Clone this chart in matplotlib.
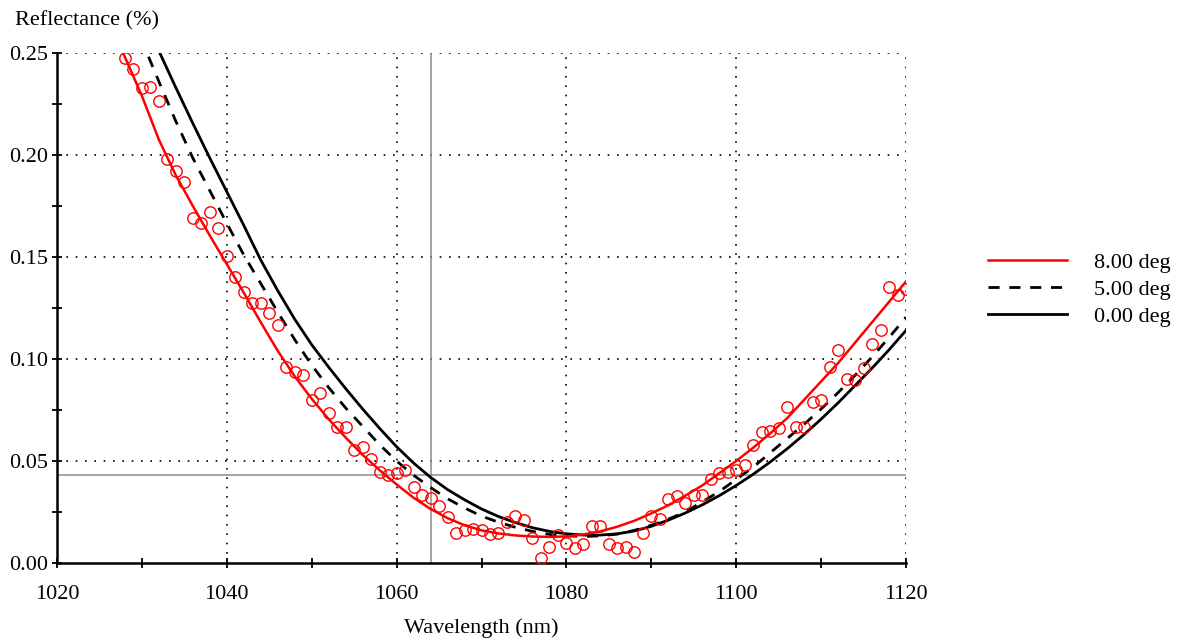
import matplotlib
matplotlib.use("Agg")
import matplotlib.pyplot as plt
from matplotlib.ticker import MultipleLocator, FormatStrFormatter

plt.rcParams['font.family'] = ['Liberation Serif', 'DejaVu Serif']

# ---------------- data ----------------
wl_meas = [1028, 1029, 1030, 1031, 1032, 1033, 1034, 1035, 1036, 1037, 1038, 1039,
           1040, 1041, 1042, 1043, 1044, 1045, 1046, 1047, 1048, 1049, 1050, 1051,
           1052, 1053, 1054, 1055, 1056, 1057, 1058, 1059, 1060, 1061, 1062, 1063,
           1064, 1065, 1066, 1067, 1068, 1069, 1070, 1071, 1072, 1073, 1074, 1075,
           1076, 1077, 1078, 1079, 1080, 1081, 1082, 1083, 1084, 1085, 1086, 1087,
           1088, 1089, 1090, 1091, 1092, 1093, 1094, 1095, 1096, 1097, 1098, 1099,
           1100, 1101, 1102, 1103, 1104, 1105, 1106, 1107, 1108, 1109, 1110, 1111,
           1112, 1113, 1114, 1115, 1116, 1117, 1118, 1119, 1120]
refl_meas = [0.2475, 0.2422, 0.2328, 0.2333, 0.2265, 0.1980, 0.1922, 0.1868, 0.1691, 0.1667,
             0.1721, 0.1642, 0.1505, 0.1402, 0.1328, 0.1275, 0.1275, 0.1225, 0.1167, 0.0961,
             0.0936, 0.0922, 0.0799, 0.0833, 0.0735, 0.0667, 0.0667, 0.0554, 0.0569, 0.0510,
             0.0446, 0.0431, 0.0441, 0.0456, 0.0373, 0.0333, 0.0319, 0.0279, 0.0225, 0.0147,
             0.0162, 0.0167, 0.0162, 0.0142, 0.0147, 0.0201, 0.0230, 0.0211, 0.0123, 0.0025,
             0.0078, 0.0137, 0.0098, 0.0074, 0.0093, 0.0181, 0.0181, 0.0093, 0.0074, 0.0078,
             0.0054, 0.0147, 0.0230, 0.0216, 0.0314, 0.0328, 0.0294, 0.0333, 0.0333, 0.0412,
             0.0441, 0.0446, 0.0456, 0.0480, 0.0578, 0.0642, 0.0647, 0.0662, 0.0765, 0.0667,
             0.0667, 0.0789, 0.0799, 0.0961, 0.1044, 0.0902, 0.0897, 0.0956, 0.1074, 0.1142,
             0.1353, 0.1314, 0.1343]

wl_calc = [1026, 1028, 1030, 1032, 1034, 1036, 1038, 1040, 1042, 1044, 1046, 1048,
           1050, 1052, 1054, 1056, 1058, 1060, 1062, 1064, 1066, 1068, 1070, 1072,
           1074, 1076, 1078, 1080, 1082, 1084, 1086, 1088, 1090, 1092, 1094, 1096,
           1098, 1100, 1102, 1104, 1106, 1108, 1110, 1112, 1114, 1116, 1118, 1120]
refl_8deg = [0.266, 0.248, 0.229, 0.2075, 0.190, 0.175, 0.1605, 0.1465, 0.1325, 0.118,
             0.104, 0.0915, 0.0805, 0.0705, 0.0615, 0.053, 0.0455, 0.0385, 0.032, 0.0265,
             0.022, 0.0185, 0.016, 0.0145, 0.0135, 0.013, 0.0128, 0.013, 0.014, 0.0155,
             0.0178, 0.0207, 0.0243, 0.0283, 0.033, 0.038, 0.044, 0.050, 0.0565, 0.0635,
             0.071, 0.080, 0.089, 0.098, 0.108, 0.118, 0.128, 0.138]
refl_5deg = [0.296, 0.276, 0.256, 0.236, 0.2165, 0.1985, 0.1825, 0.1665, 0.151, 0.137,
             0.123, 0.1095, 0.097, 0.086, 0.076, 0.067, 0.058, 0.050, 0.043, 0.037,
             0.0315, 0.027, 0.023, 0.020, 0.0175, 0.0155, 0.014, 0.0133, 0.013, 0.0133,
             0.0142, 0.016, 0.0185, 0.0215, 0.025, 0.030, 0.035, 0.041, 0.047, 0.054,
             0.061, 0.068, 0.0755, 0.0835, 0.092, 0.101, 0.1105, 0.1205]
refl_0deg = [0.308, 0.288, 0.269, 0.251, 0.233, 0.2155, 0.1985, 0.182, 0.1655, 0.1485,
             0.1335, 0.1195, 0.107, 0.096, 0.0855, 0.0755, 0.066, 0.057, 0.049, 0.042,
             0.036, 0.031, 0.0265, 0.0228, 0.0198, 0.0173, 0.0155, 0.0143, 0.0137, 0.0137,
             0.0143, 0.0157, 0.018, 0.021, 0.0245, 0.0285, 0.033, 0.038, 0.0435, 0.0495,
             0.056, 0.063, 0.0705, 0.0785, 0.087, 0.0955, 0.1045, 0.114]

labels = ["8.00 deg", "5.00 deg", "0.00 deg"]
cursor_wl = 1064.0
cursor_refl = 0.043

# ---------------- figure ----------------
W, H = 1184, 643
fig = plt.figure(figsize=(W / 100, H / 100), dpi=100)
ax = fig.add_axes([57 / W, 1 - 563 / H, (906 - 57) / W, (563 - 53) / H])

ax.set_xlim(1020, 1120)
ax.set_ylim(0.0, 0.25)

# grid (dotted) at major ticks except axis lines
for xv in [1040, 1060, 1080, 1100, 1120]:
    ax.axvline(xv, color='black', lw=1.2, ls=(0, (1, 4.6)), zorder=1)
for yv in [0.05, 0.10, 0.15, 0.20, 0.25]:
    ax.axhline(yv, color='black', lw=1.2, ls=(0, (1, 4.6)), zorder=1)

# cursor cross-hair
ax.axvline(cursor_wl, color='#8c8c8c', lw=1.1, zorder=2)
ax.axhline(cursor_refl, color='#8c8c8c', lw=1.1, zorder=2)

l0, = ax.plot(wl_calc, refl_0deg, color='black', lw=2.0, zorder=3, label=labels[2])
l5, = ax.plot(wl_calc, refl_5deg, color='black', lw=2.0, ls=(0, (4.0, 3.5)), zorder=3, label=labels[1])
l8, = ax.plot(wl_calc, refl_8deg, color='red', lw=1.8, zorder=4, label=labels[0])
ax.plot(wl_meas, refl_meas, ls='none', marker='o', ms=8.2, mfc='none', mec='red',
        mew=1.0, zorder=5, clip_on=True)

for s in ['top', 'right']:
    ax.spines[s].set_visible(False)
for s in ['left', 'bottom']:
    ax.spines[s].set_linewidth(1.8)
    ax.spines[s].set_color('black')

ax.xaxis.set_major_locator(MultipleLocator(20))
ax.xaxis.set_minor_locator(MultipleLocator(10))
ax.yaxis.set_major_locator(MultipleLocator(0.05))
ax.yaxis.set_minor_locator(MultipleLocator(0.025))
ax.yaxis.set_major_formatter(FormatStrFormatter('%.2f'))
ax.tick_params(which='both', direction='inout', length=7, width=1.3, colors='black',
               labelsize=16, top=False, right=False)
ax.tick_params(axis='x', pad=12)
ax.tick_params(axis='y', pad=3)

ax.set_xlabel("Wavelength (nm)", fontsize=16)
ax.xaxis.set_label_coords(0.5, -0.108)
fig.text(15 / W, 1 - 21 / H, "Reflectance (%)", fontsize=16, ha='left', va='center')

leg = fig.legend([l8, l5, l0], labels, loc='upper left',
                 bbox_to_anchor=(988 / W, 1 - 252 / H), frameon=False,
                 fontsize=16, handlelength=3.55, handletextpad=1.2,
                 labelspacing=0.3, borderpad=0, borderaxespad=0)

fig.savefig("out.png", dpi=100)
